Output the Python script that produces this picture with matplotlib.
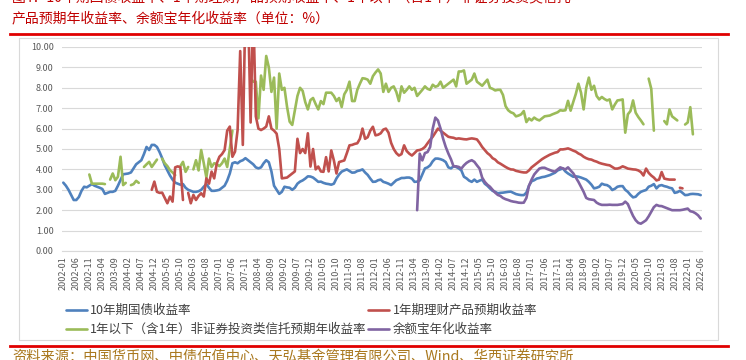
import numpy as np
import pandas as pd
import matplotlib
matplotlib.use("Agg")
import matplotlib.pyplot as plt
from matplotlib.lines import Line2D
from matplotlib.patches import Rectangle

plt.rcParams['font.family'] = ['Noto Sans CJK SC', 'DejaVu Sans']

nan = np.nan

# monthly categories 2002-01 .. 2022-06
months = pd.date_range("2002-01", "2022-06", freq="MS").strftime("%Y-%m").tolist()

# 10年期国债收益率 (%)
bond_10y = [
    3.35, 3.20, 3.00, 2.75, 2.50, 2.50, 2.65, 2.95, 3.15, 3.12, 3.20, 3.28,  # 2002
    3.20, 3.15, 3.10, 3.04, 2.80, 2.85, 2.90, 2.90, 2.95, 3.20, 3.48, 3.76,  # 2003
    3.78, 3.80, 3.85, 4.05, 4.25, 4.35, 4.45, 4.75, 5.10, 4.95, 5.20, 5.20,  # 2004
    5.10, 4.85, 4.55, 4.20, 3.95, 3.70, 3.50, 3.35, 3.30, 3.25, 3.28, 3.10,  # 2005
    3.00, 2.95, 2.90, 2.90, 2.93, 3.00, 3.15, 3.28, 3.10, 2.95, 2.95, 2.97,  # 2006
    3.00, 3.10, 3.20, 3.45, 3.80, 4.30, 4.35, 4.30, 4.40, 4.45, 4.55, 4.45,  # 2007
    4.35, 4.25, 4.10, 4.05, 4.10, 4.30, 4.45, 4.35, 3.90, 3.20, 3.00, 2.80,  # 2008
    2.90, 3.15, 3.12, 3.10, 3.00, 3.10, 3.30, 3.40, 3.46, 3.55, 3.66, 3.65,  # 2009
    3.60, 3.50, 3.39, 3.40, 3.34, 3.30, 3.28, 3.25, 3.30, 3.56, 3.75, 3.89,  # 2010
    3.95, 4.00, 3.92, 3.84, 3.85, 3.92, 3.95, 4.00, 3.85, 3.73, 3.55, 3.39,  # 2011
    3.40, 3.47, 3.50, 3.39, 3.35, 3.30, 3.23, 3.35, 3.47, 3.52, 3.58, 3.58,  # 2012
    3.60, 3.60, 3.55, 3.39, 3.40, 3.46, 3.75, 4.05, 4.10, 4.20, 4.40, 4.53,  # 2013
    4.53, 4.50, 4.45, 4.36, 4.10, 4.05, 4.15, 4.12, 4.05, 3.95, 3.64, 3.56,  # 2014
    3.45, 3.39, 3.50, 3.39, 3.45, 3.50, 3.30, 3.20, 3.07, 2.95, 2.90, 2.83,  # 2015
    2.85, 2.86, 2.88, 2.90, 2.91, 2.85, 2.79, 2.76, 2.74, 2.74, 2.86, 3.20,  # 2016
    3.42, 3.47, 3.55, 3.58, 3.62, 3.64, 3.68, 3.72, 3.78, 3.84, 3.95, 4.00,  # 2017
    4.05, 3.90, 3.80, 3.72, 3.64, 3.66, 3.64, 3.60, 3.55, 3.50, 3.39, 3.25,  # 2018
    3.07, 3.10, 3.15, 3.30, 3.25, 3.23, 3.15, 2.99, 3.05, 3.15, 3.18, 3.18,  # 2019
    3.00, 2.90, 2.75, 2.63, 2.66, 2.80, 2.90, 2.95, 2.99, 3.15, 3.20, 3.28,  # 2020
    3.07, 3.20, 3.23, 3.18, 3.15, 3.10, 3.07, 2.85, 2.88, 2.95, 2.85, 2.74,  # 2021
    2.75, 2.79, 2.80, 2.79, 2.78, 2.74,                                      # 2022
]

# 1年期理财产品预期收益率 (%)
wmp_1y = [
    nan, nan, nan, nan, nan, nan, nan, nan, nan, nan, nan, nan,              # 2002
    nan, nan, nan, nan, nan, nan, nan, nan, nan, nan, nan, nan,              # 2003
    nan, nan, nan, nan, nan, nan, nan, nan, nan, nan, 3.00, 3.40,            # 2004
    2.90, 2.85, 2.86, 2.60, 2.34, 2.67, 2.42, 4.10, 4.15, 4.10, 2.50, nan,   # 2005
    2.85, 2.34, 2.75, 2.50, 2.70, 2.83, 2.67, 3.56, 3.30, 3.89, 3.56, 4.30,  # 2006
    4.62, 4.75, 4.95, 5.90, 6.10, 4.62, 4.87, 5.93, 9.80, 5.20, 12.0, 12.0,  # 2007
    6.30, 12.0, 6.60, 6.00, 5.93, 6.00, 6.10, 6.60, 6.00, 5.90, 5.75, 5.00,  # 2008
    3.56, 3.58, 3.60, 3.70, 3.80, 3.90, 5.50, 4.80, 5.00, 4.80, 5.77, 4.14,  # 2009
    5.00, 4.00, 4.14, 3.90, 3.88, 4.60, 3.90, 4.93, 4.44, 3.80, 4.36, 4.40,  # 2010
    4.44, 4.80, 5.18, 5.20, 5.25, 5.28, 5.50, 6.00, 5.50, 5.58, 5.90, 6.09,  # 2011
    5.67, 5.70, 5.77, 5.95, 6.00, 5.80, 5.30, 5.00, 4.80, 4.68, 4.75, 5.18,  # 2012
    4.90, 4.77, 4.68, 4.80, 4.93, 4.95, 5.00, 5.10, 5.28, 5.45, 5.60, 5.80,  # 2013
    6.00, 5.90, 5.80, 5.70, 5.60, 5.57, 5.55, 5.50, 5.52, 5.50, 5.48, 5.47,  # 2014
    5.50, 5.52, 5.50, 5.47, 5.30, 5.10, 4.95, 4.80, 4.70, 4.55, 4.48, 4.35,  # 2015
    4.28, 4.20, 4.12, 4.05, 4.00, 3.99, 3.93, 3.90, 3.87, 3.85, 3.85, 3.95,  # 2016
    4.10, 4.20, 4.30, 4.40, 4.50, 4.58, 4.65, 4.72, 4.77, 4.82, 4.85, 4.98,  # 2017
    4.98, 5.00, 5.03, 4.98, 4.92, 4.87, 4.78, 4.72, 4.62, 4.55, 4.50, 4.48,  # 2018
    4.42, 4.38, 4.32, 4.28, 4.25, 4.22, 4.20, 4.12, 4.04, 4.04, 4.08, 4.15,  # 2019
    4.10, 4.04, 4.02, 4.00, 3.99, 3.95, 3.87, 3.70, 4.04, 3.83, 3.70, 3.60,  # 2020
    3.46, 3.50, 3.87, 3.55, 3.52, 3.50, 3.50, 3.50, nan, 3.10, 3.07, nan,    # 2021
    nan, nan, nan, nan, nan, nan,                                            # 2022
]

# 1年以下（含1年）非证券投资类信托预期年收益率 (%)
trust_1y = [
    nan, nan, nan, nan, nan, nan, nan, nan, nan, nan, 3.75, 3.30,            # 2002
    3.30, 3.30, 3.30, 3.30, 3.28, nan, 3.50, 3.80, 3.47, 3.64, 4.62, 3.23,   # 2003
    3.34, nan, 3.23, 3.28, 3.44, 3.34, nan, 4.12, 4.25, 4.37, 4.12, 4.30,    # 2004
    4.48, nan, 4.53, 4.30, 4.16, 3.96, 3.85, 3.72, nan, 4.16, 4.37, 3.88,    # 2005
    4.12, nan, 4.00, 4.45, 3.95, 4.95, 4.30, 3.60, 4.53, 4.12, 4.30, 4.26,   # 2006
    4.16, 4.30, 4.53, 4.12, 5.00, 5.90, nan, nan, nan, nan, nan, nan,        # 2007
    8.47, 8.30, 8.30, 6.50, 8.60, 7.90, 9.56, 9.00, 7.80, 8.50, 6.00, 8.70,  # 2008
    7.90, 8.00, 7.07, 6.34, 6.18, 6.90, 7.60, 8.00, 7.85, 7.30, 6.94, 7.40,  # 2009
    7.50, 7.20, 6.94, 7.35, 7.20, 7.76, 7.76, 7.76, 7.60, 7.35, 7.50, 7.06,  # 2010
    7.68, 7.90, 8.30, 7.35, 7.35, 7.90, 8.20, 8.47, 8.45, 8.40, 8.20, 8.57,  # 2011
    8.75, 8.90, 8.70, 7.80, 8.20, 7.80, 8.00, 8.07, 7.80, 7.35, 8.07, 7.76,  # 2012
    7.90, 8.07, 7.90, 8.00, 7.60, 7.75, 7.90, 8.07, 7.95, 7.90, 8.15, 8.05,  # 2013
    8.10, 8.30, 8.00, 8.10, 8.20, 8.30, 8.40, 8.07, 8.80, 8.80, 8.85, 8.20,  # 2014
    8.30, 8.40, 8.70, 8.30, 8.20, 8.10, 8.25, 8.40, 8.00, 7.95, 7.87, 7.90,  # 2015
    7.90, 7.65, 7.10, 6.90, 6.80, 6.75, 6.60, 6.64, 6.70, 6.86, 6.32, 6.50,  # 2016
    6.40, 6.54, 6.45, 6.40, 6.50, 6.60, 6.62, 6.64, 6.70, 6.75, 6.80, 6.90,  # 2017
    6.88, 6.90, 7.36, 6.88, 7.30, 7.70, 8.20, 7.76, 6.94, 8.00, 8.50, 7.90,  # 2018
    8.10, 7.60, 7.43, 7.55, 7.45, 7.38, 7.43, 6.94, 7.18, 7.38, 7.40, 7.43,  # 2019
    5.80, 6.70, 6.86, 7.38, 6.78, 6.57, 6.40, 6.21, nan, 8.45, 7.95, 5.90,   # 2020
    nan, nan, nan, 6.37, 6.21, 6.94, 6.60, 6.50, 6.40, nan, nan, 6.20,       # 2021
    6.30, 7.05, 5.72, nan, nan, nan,                                         # 2022
]

# 余额宝年化收益率 (%)
yuebao = [nan] * 136 + [
    2.00, 4.77, 4.44, 4.80, 4.85, 5.10, 6.00, 6.54,                          # 2013-05..12
    6.40, 6.00, 5.50, 5.10, 4.78, 4.50, 4.15, 4.15, 4.12, 4.04, 4.20, 4.32,  # 2014
    4.40, 4.45, 4.37, 4.20, 4.04, 3.60, 3.39, 3.25, 3.15, 3.00, 2.86, 2.75,  # 2015
    2.70, 2.60, 2.54, 2.50, 2.45, 2.42, 2.40, 2.37, 2.36, 2.37, 2.60, 3.20,  # 2016
    3.50, 3.75, 3.90, 4.04, 4.08, 4.08, 4.02, 3.97, 3.92, 3.89, 4.00, 4.10,  # 2017
    4.05, 4.00, 4.10, 3.95, 3.81, 3.60, 3.39, 3.15, 2.90, 2.60, 2.54, 2.52,  # 2018
    2.50, 2.37, 2.30, 2.26, 2.26, 2.26, 2.27, 2.26, 2.26, 2.26, 2.28, 2.30,  # 2019
    2.42, 2.30, 2.00, 1.72, 1.51, 1.38, 1.34, 1.42, 1.51, 1.70, 1.92, 2.15,  # 2020
    2.26, 2.21, 2.20, 2.15, 2.10, 2.05, 2.00, 2.00, 2.00, 2.00, 2.02, 2.05,  # 2021
    2.08, 1.95, 1.92, 1.85, 1.75, 1.59,                                      # 2022
]

series = [
    ("10年期国债收益率", bond_10y, "#4F81BD"),
    ("1年以下（含1年）非证券投资类信托预期年收益率", trust_1y, "#9BBB59"),
    ("1年期理财产品预期收益率", wmp_1y, "#C0504D"),
    ("余额宝年化收益率", yuebao, "#8064A2"),
]

title_red = "#C00000"
source_col = "#A9781E"

fig = plt.figure(figsize=(7.46, 3.6), dpi=100)
ax = fig.add_axes([62 / 746, 1 - 251 / 360, 640 / 746, 204 / 360])

x = np.arange(len(months))
handles = []
for name, vals, col in series:
    line, = ax.plot(x, np.array(vals, dtype=float), color=col, lw=1.9,
                    solid_capstyle="round", solid_joinstyle="round", label=name)
    handles.append(line)

ax.set_xlim(-0.5, len(months) - 0.5)
ax.set_ylim(0, 10)
ax.set_yticks(np.arange(0, 11, 1))
ax.set_yticklabels([f"{v:.2f}" for v in range(11)])
ax.set_xticks(x[::5])
ax.set_xticklabels(months[::5], rotation=90)
ax.tick_params(axis="both", length=0, labelsize=6.5, colors="#595959")
ax.tick_params(axis="y", pad=6)
ax.tick_params(axis="x", pad=4)
ax.grid(axis="y", color="#D9D9D9", lw=0.8)
ax.set_axisbelow(True)
for s in ["top", "right", "left"]:
    ax.spines[s].set_visible(False)
ax.spines["bottom"].set_color("#D9D9D9")

fig.legend(handles=handles, labels=[h.get_label() for h in handles],
           ncol=2, loc="upper left", bbox_to_anchor=(66 / 746, 1 - 304 / 360),
           frameon=False, fontsize=9, handlelength=1.7, handletextpad=0.25,
           columnspacing=0.1, labelspacing=0.5, borderpad=0, borderaxespad=0)
for t in fig.legends[0].get_texts():
    t.set_color("#404040")

# chart frame and red rules
fig.add_artist(Rectangle((19 / 746, 1 - 340 / 360), 699 / 746, 302 / 360,
                         transform=fig.transFigure, fill=False,
                         edgecolor="#D9D9D9", lw=0.8))
fig.add_artist(Line2D([10 / 746, 728 / 746], [1 - 34 / 360] * 2,
                      transform=fig.transFigure, color="#E00000", lw=2))
fig.add_artist(Line2D([10 / 746, 728 / 746], [1 - 346 / 360] * 2,
                      transform=fig.transFigure, color="#E00000", lw=2))

fig.text(12 / 746, 1 - 1.5 / 360,
         "图4：10年期国债收益率、1年期理财产品预期收益率、1年以下（含1年）非证券投资类信托",
         color=title_red, fontsize=10, va="baseline", ha="left")
fig.text(12 / 746, 1 - 18 / 360, "产品预期年收益率、余额宝年化收益率（单位：%）",
         color=title_red, fontsize=10, va="center", ha="left")
fig.text(12 / 746, 1 - 357 / 360,
         "资料来源：中国货币网、中债估值中心、天弘基金管理有限公司、Wind、华西证券研究所",
         color=source_col, fontsize=10.3, va="center", ha="left")

fig.savefig("out.png", dpi=100)
